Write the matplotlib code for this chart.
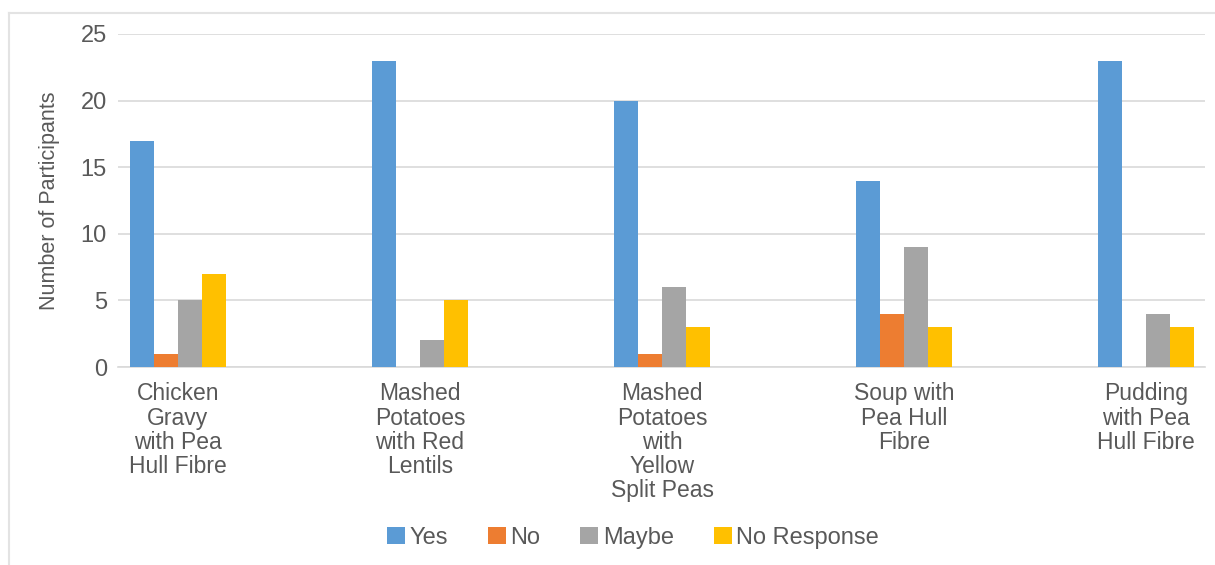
import matplotlib
matplotlib.use("Agg")
import matplotlib.pyplot as plt
from matplotlib.lines import Line2D
import numpy as np

plt.rcParams['font.family'] = ['Liberation Sans', 'DejaVu Sans']

categories = ["Chicken\nGravy\nwith Pea\nHull Fibre",
              "Mashed\nPotatoes\nwith Red\nLentils",
              "Mashed\nPotatoes\nwith\nYellow\nSplit Peas",
              "Soup with\nPea Hull\nFibre",
              "Pudding\nwith Pea\nHull Fibre"]
series_names = ["Yes", "No", "Maybe", "No Response"]
yes = [17, 23, 20, 14, 23]
no = [1, 0, 1, 4, 0]
maybe = [5, 2, 6, 9, 4]
no_response = [7, 5, 3, 3, 3]
colors = ["#5b9bd5", "#ed7d31", "#a5a5a5", "#ffc000"]
yticks = [0, 5, 10, 15, 20, 25]

W, H = 1215, 565
fig = plt.figure(figsize=(W / 100, H / 100), dpi=100)
ax = fig.add_axes([118 / W, (H - 367) / H, (1205 - 118) / W, (367 - 34) / H])

x = np.arange(len(categories))
bw = 24 / 242
data = [yes, no, maybe, no_response]
for i, (vals, c, name) in enumerate(zip(data, colors, series_names)):
    ax.bar(x + (i - 1.5) * bw, vals, bw, color=c, label=name, zorder=3)

ax.set_xlim(-60 / 242, 1027 / 242)
ax.set_ylim(0, 25)
ax.set_yticks(yticks)
ax.set_yticklabels([str(t) for t in yticks], fontsize=17, color="#595959")
ax.set_xticks(x)
ax.set_xticklabels(categories, fontsize=16.5, color="#595959", va="top",
                   linespacing=1.07)
ax.tick_params(axis='both', length=0)
ax.tick_params(axis='x', pad=11)
ax.tick_params(axis='y', pad=8)
ax.grid(axis='y', color="#d9d9d9", linewidth=1.2, zorder=0)
for s in ['top', 'right', 'left']:
    ax.spines[s].set_visible(False)
ax.spines['bottom'].set_color("#d9d9d9")
ax.spines['bottom'].set_linewidth(1.2)

fig.text(50 / W, (H - 201) / H, "Number of Participants", rotation=90,
         ha='center', va='center', fontsize=15.5, color="#595959")

leg = fig.legend(loc='center', bbox_to_anchor=(633 / W, (H - 538) / H), ncol=4,
                 frameon=False, fontsize=17, handlelength=0.75, handleheight=0.75,
                 handletextpad=0.2, columnspacing=1.7)
for t in leg.get_texts():
    t.set_color("#595959")

# outer frame (top and left)
fig.add_artist(Line2D([9 / W, 1], [1 - 13 / H, 1 - 13 / H], color="#e3e3e3", linewidth=1.5))
fig.add_artist(Line2D([9 / W, 9 / W], [0, 1 - 13 / H], color="#e3e3e3", linewidth=1.5))

fig.savefig("out.png", dpi=100)
